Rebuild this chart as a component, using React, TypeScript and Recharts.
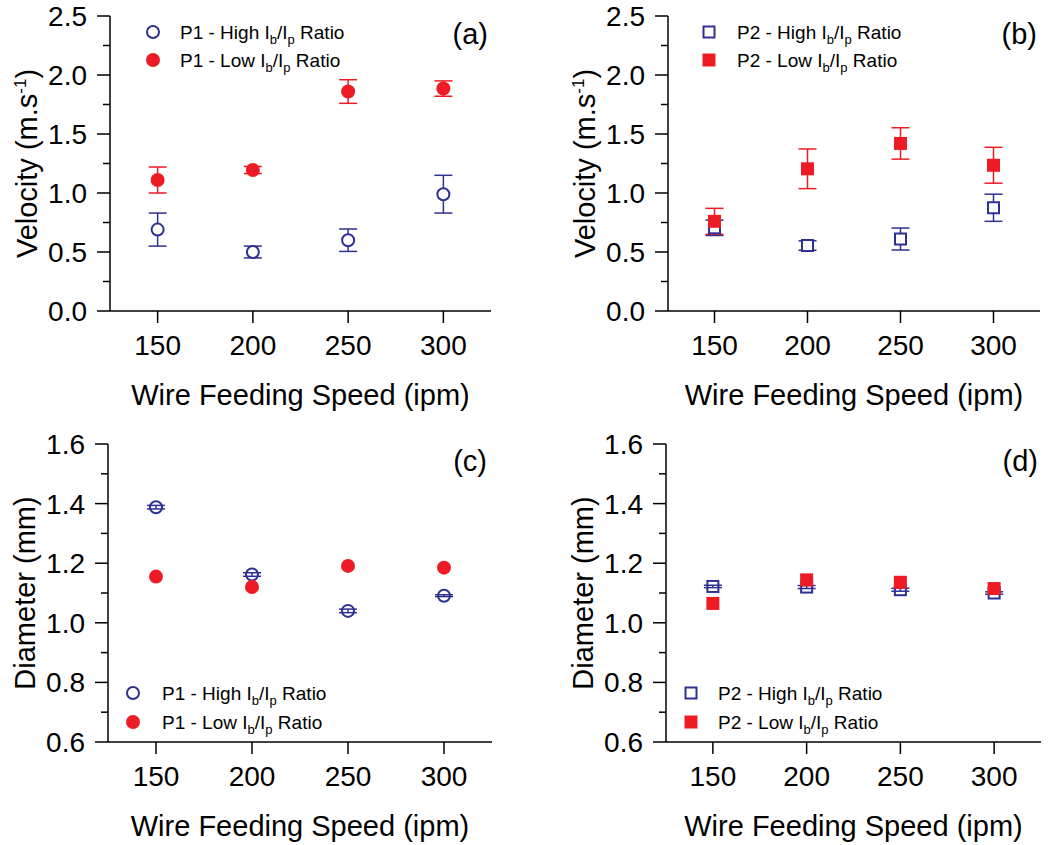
import React from "react";
import { ErrorBar, Label, Legend, Scatter, ScatterChart, XAxis, YAxis } from "recharts";

const BLUE = "#2e3192";
const RED = "#ed1c24";
const FONT = "'Liberation Sans', Arial, sans-serif";

// wire feeding speed (ipm)
const speeds = [150, 200, 250, 300];
const xTicks = [150, 200, 250, 300];

// velocity (m/s) + error
const velP1High = [0.69, 0.5, 0.6, 0.99];
const velP1HighErr = [0.14, 0.05, 0.095, 0.16];
const velP1Low = [1.11, 1.195, 1.86, 1.885];
const velP1LowErr = [0.11, 0.03, 0.1, 0.065];
const velP2High = [0.705, 0.555, 0.61, 0.875];
const velP2HighErr = [0.065, 0.04, 0.093, 0.115];
const velP2Low = [0.76, 1.205, 1.42, 1.235];
const velP2LowErr = [0.11, 0.168, 0.133, 0.152];

// diameter (mm) + error
const diaP1High = [1.388, 1.162, 1.04, 1.091];
const diaP1HighErr = [0.006, 0.006, 0.006, 0.003];
const diaP1Low = [1.155, 1.12, 1.191, 1.185];
const diaP1LowErr = [0, 0, 0, 0];
const diaP2High = [1.122, 1.12, 1.111, 1.1];
const diaP2HighErr = [0.004, 0.005, 0.005, 0.004];
const diaP2Low = [1.065, 1.144, 1.136, 1.115];
const diaP2LowErr = [0, 0, 0, 0];

const velTicks = [0, 0.25, 0.5, 0.75, 1, 1.25, 1.5, 1.75, 2, 2.25, 2.5];
const velMajor = [0, 0.5, 1, 1.5, 2, 2.5];
const diaTicks = [0.6, 0.7, 0.8, 0.9, 1.0, 1.1, 1.2, 1.3, 1.4, 1.5, 1.6];
const diaMajor = [0.6, 0.8, 1.0, 1.2, 1.4, 1.6];

const rows = (ys: number[], errs: number[]) =>
  speeds.map((x, i) => ({ x, y: ys[i], err: errs[i] }));

type Marker = "openCircle" | "circle" | "openSquare" | "square";

function drawMarker(kind: Marker, cx: number, cy: number, openFill = "#fff") {
  if (kind === "openCircle")
    return <circle cx={cx} cy={cy} r={6} fill={openFill} stroke={BLUE} strokeWidth={2} />;
  if (kind === "circle") return <circle cx={cx} cy={cy} r={7} fill={RED} />;
  if (kind === "openSquare")
    return <rect x={cx - 5.5} y={cy - 5.5} width={11} height={11} fill={openFill} stroke={BLUE} strokeWidth={2} />;
  return <rect x={cx - 6.5} y={cy - 6.5} width={13} height={13} fill={RED} />;
}

function YTick(props: any) {
  const { x, y, payload, majors } = props;
  const major = majors.some((m: number) => Math.abs(m - payload.value) < 1e-6);
  const len = major ? 13 : 7;
  return (
    <g>
      <line x1={x - len} x2={x} y1={y} y2={y} stroke="#000" strokeWidth={1.5} />
      {major && (
        <text x={x - 23} y={y} dy={10} textAnchor="end" fontSize={28} fill="#000" fontFamily={FONT}>
          {payload.value.toFixed(1)}
        </text>
      )}
    </g>
  );
}

function XTitle(props: any) {
  const { x, y, width } = props.viewBox;
  return (
    <text x={x + width / 2} y={y + 94} textAnchor="middle" fontSize={29} fill="#000" fontFamily={FONT}>
      Wire Feeding Speed (ipm)
    </text>
  );
}

function makeYTitle(kind: "vel" | "dia") {
  return function YTitle(props: any) {
    const { x, y, width, height } = props.viewBox;
    const cx = x + width - 73;
    const cy = y + height / 2;
    return (
      <text
        x={cx}
        y={cy}
        transform={`rotate(-90 ${cx} ${cy})`}
        textAnchor="middle"
        fontSize={29}
        fill="#000"
        fontFamily={FONT}
      >
        {kind === "vel" ? (
          <>
            Velocity (m.s
            <tspan dy={-11} fontSize={17}>-1</tspan>
            <tspan dy={11}>)</tspan>
          </>
        ) : (
          "Diameter (mm)"
        )}
      </text>
    );
  };
}

function legendLabel(prefix: string, x: number, y: number) {
  return (
    <text x={x} y={y} fontSize={19} fill="#000" fontFamily={FONT}>
      {prefix + " I"}
      <tspan dy={5} fontSize={13}>b</tspan>
      <tspan dy={-5}>/I</tspan>
      <tspan dy={5} fontSize={13}>p</tspan>
      <tspan dy={-5}>{" Ratio"}</tspan>
    </text>
  );
}

type SeriesDef = {
  name: string;
  data: { x: number; y: number; err: number }[];
  marker: Marker;
  color: string;
};

type PanelProps = {
  left: number;
  top: number;
  width: number;
  height: number;
  margin: { top: number; right: number; bottom: number; left: number };
  yDomain: [number, number];
  yTicks: number[];
  yMajor: number[];
  yKind: "vel" | "dia";
  openFill: string;
  series: SeriesDef[];
  legendSymX: number;
  legendTextX: number;
  legendRows: [number, number];
  tag: string;
  tagRight: number;
  tagBaseline: number;
};

function Panel(p: PanelProps) {
  const legendContent = () => (
    <svg width={p.width} height={p.height} style={{ position: "absolute", left: 0, top: 0 }}>
      {p.series.map((s, i) => (
        <g key={s.name}>
          {drawMarker(s.marker, p.legendSymX, p.legendRows[i])}
          {legendLabel(s.name, p.legendTextX, p.legendRows[i] + 7)}
        </g>
      ))}
      <text x={p.tagRight} y={p.tagBaseline} textAnchor="end" fontSize={29} fill="#000" fontFamily={FONT}>
        {p.tag}
      </text>
    </svg>
  );

  const xProps = {
    type: "number" as const,
    dataKey: "x",
    domain: [125, 325] as [number, number],
    ticks: xTicks,
    interval: 0 as const,
    allowDataOverflow: true,
    height: 80,
  };
  const yProps = {
    type: "number" as const,
    dataKey: "y",
    domain: p.yDomain,
    ticks: p.yTicks,
    interval: 0 as const,
    allowDataOverflow: true,
    width: 80,
  };

  return (
    <div style={{ position: "absolute", left: p.left, top: p.top, width: p.width, height: p.height }}>
      {/* base layer: axes and error bars */}
      <div style={{ position: "absolute", left: 0, top: 0 }}>
        <ScatterChart width={p.width} height={p.height} margin={p.margin}>
          <XAxis
            {...xProps}
            tickSize={12}
            tickMargin={12}
            axisLine={{ stroke: "#000", strokeWidth: 1.5 }}
            tickLine={{ stroke: "#000", strokeWidth: 1.5 }}
            tick={{ fill: "#000", fontSize: 28, fontFamily: FONT }}
          >
            <Label content={XTitle} />
          </XAxis>
          <YAxis
            {...yProps}
            tickSize={0}
            tickMargin={0}
            axisLine={{ stroke: "#000", strokeWidth: 1.5 }}
            tickLine={false}
            tick={(tp: any) => <YTick {...tp} majors={p.yMajor} />}
          >
            <Label content={makeYTitle(p.yKind)} />
          </YAxis>
          {p.series.map((s) => (
            <Scatter
              key={s.name + "-err"}
              data={s.data}
              legendType="none"
              isAnimationActive={false}
              shape={() => <g />}
            >
              <ErrorBar dataKey="err" direction="y" width={9} stroke={s.color} strokeWidth={1.5} />
            </Scatter>
          ))}
        </ScatterChart>
      </div>
      {/* top layer: symbols drawn over the error bars, plus legend */}
      <div style={{ position: "absolute", left: 0, top: 0 }}>
        <ScatterChart width={p.width} height={p.height} margin={p.margin}>
          <XAxis {...xProps} axisLine={false} tickLine={false} tick={false} />
          <YAxis {...yProps} axisLine={false} tickLine={false} tick={false} />
          {p.series.map((s) => (
            <Scatter
              key={s.name}
              name={s.name}
              data={s.data}
              isAnimationActive={false}
              shape={(sp: any) => drawMarker(s.marker, sp.cx, sp.cy, p.openFill)}
            />
          ))}
          <Legend
            layout="horizontal"
            verticalAlign="middle"
            align="center"
            content={legendContent}
            wrapperStyle={{ left: 0, top: 0, width: p.width, height: p.height, pointerEvents: "none" }}
          />
        </ScatterChart>
      </div>
    </div>
  );
}

export default function App() {
  return (
    <div
      style={{
        position: "absolute",
        left: 0,
        top: 0,
        width: 1055,
        height: 845,
        background: "#fff",
        fontFamily: FONT,
      }}
    >
      <Panel
        left={0}
        top={0}
        width={520}
        height={420}
        margin={{ top: 16, right: 29, bottom: 29, left: 30 }}
        yDomain={[0, 2.5]}
        yTicks={velTicks}
        yMajor={velMajor}
        yKind="vel"
        openFill="#fff"
        series={[
          { name: "P1 - High", data: rows(velP1High, velP1HighErr), marker: "openCircle", color: BLUE },
          { name: "P1 - Low", data: rows(velP1Low, velP1LowErr), marker: "circle", color: RED },
        ]}
        legendSymX={153}
        legendTextX={180}
        legendRows={[32, 60]}
        tag="(a)"
        tagRight={488}
        tagBaseline={44}
      />
      <Panel
        left={520}
        top={0}
        width={535}
        height={420}
        margin={{ top: 16, right: 15, bottom: 29, left: 68 }}
        yDomain={[0, 2.5]}
        yTicks={velTicks}
        yMajor={velMajor}
        yKind="vel"
        openFill="#fff"
        series={[
          { name: "P2 - High", data: rows(velP2High, velP2HighErr), marker: "openSquare", color: BLUE },
          { name: "P2 - Low", data: rows(velP2Low, velP2LowErr), marker: "square", color: RED },
        ]}
        legendSymX={189}
        legendTextX={217}
        legendRows={[32, 60]}
        tag="(b)"
        tagRight={517}
        tagBaseline={44}
      />
      <Panel
        left={0}
        top={420}
        width={520}
        height={425}
        margin={{ top: 24, right: 28, bottom: 23, left: 28 }}
        yDomain={[0.6, 1.6]}
        yTicks={diaTicks}
        yMajor={diaMajor}
        yKind="dia"
        openFill="none"
        series={[
          { name: "P1 - High", data: rows(diaP1High, diaP1HighErr), marker: "openCircle", color: BLUE },
          { name: "P1 - Low", data: rows(diaP1Low, diaP1LowErr), marker: "circle", color: RED },
        ]}
        legendSymX={133}
        legendTextX={162}
        legendRows={[273, 302]}
        tag="(c)"
        tagRight={487}
        tagBaseline={51}
      />
      <Panel
        left={520}
        top={420}
        width={535}
        height={425}
        margin={{ top: 24, right: 14, bottom: 23, left: 66 }}
        yDomain={[0.6, 1.6]}
        yTicks={diaTicks}
        yMajor={diaMajor}
        yKind="dia"
        openFill="none"
        series={[
          { name: "P2 - High", data: rows(diaP2High, diaP2HighErr), marker: "openSquare", color: BLUE },
          { name: "P2 - Low", data: rows(diaP2Low, diaP2LowErr), marker: "square", color: RED },
        ]}
        legendSymX={171}
        legendTextX={198}
        legendRows={[273, 302]}
        tag="(d)"
        tagRight={518}
        tagBaseline={51}
      />
    </div>
  );
}
